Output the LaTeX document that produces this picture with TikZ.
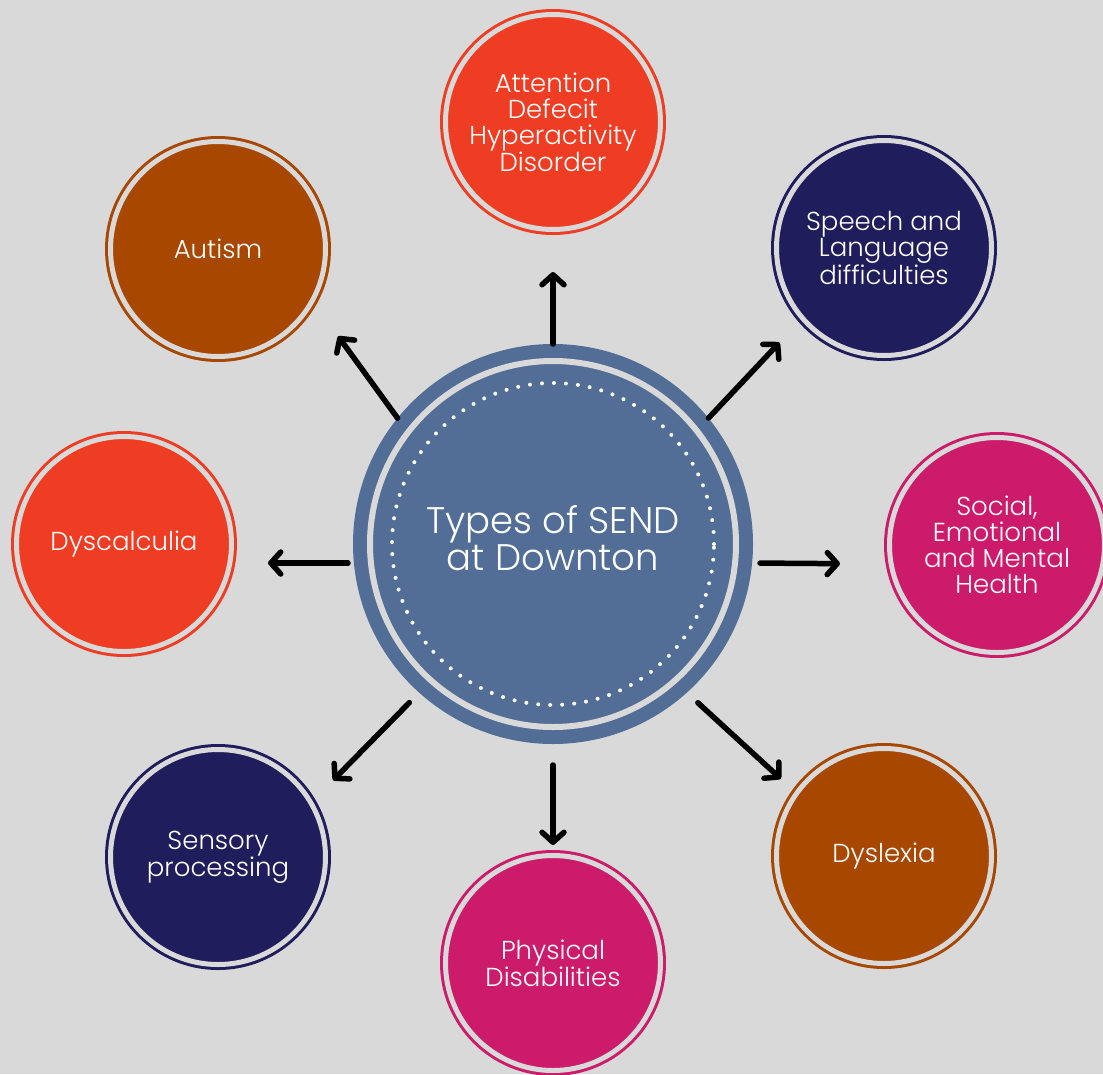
\documentclass[tikz,border=0pt]{standalone}
\usepackage{fontspec}
\setmainfont{Poppins}[UprightFont=* Light]
\usetikzlibrary{arrows.meta}

\definecolor{bggray}{RGB}{217,217,217}
\definecolor{hubblue}{RGB}{82,110,150}
\definecolor{redorange}{RGB}{239,61,36}
\definecolor{rust}{RGB}{168,71,0}
\definecolor{navy}{RGB}{31,29,92}
\definecolor{magenta}{RGB}{205,27,108}

\begin{document}
\begin{tikzpicture}[x=1pt, y=-1pt,
  topic/.style={circle, draw=#1, fill=#1, line width=3pt, double=bggray, double distance=5pt,
                minimum size=215pt, inner sep=0pt, outer sep=5.5pt, text=white, align=center,
                font=\fontsize{26}{26}\selectfont},
  hubstyle/.style={circle, draw=hubblue, fill=hubblue, line width=14pt, double=bggray, double distance=6pt,
                minimum size=366pt, inner sep=0pt, outer sep=17pt},
  hubtext/.style={text=white, align=center, font=\fontsize{37}{37}\selectfont},
  link/.style={-{Straight Barb[round, length=10pt, width=22pt]}, line width=5.5pt, line cap=round}]
  \fill[bggray] (0,0) rectangle (1103,1074);
  \useasboundingbox (0,0) rectangle (1103,1074);

  \node[hubstyle] (hub) at (553,544) {};
  \draw[white, line width=4pt, line cap=round, dash pattern=on 0pt off 12pt] (hub.center) circle[radius=161pt];
  \node[hubtext] (title) at ([yshift=6pt]hub.center) {Types of SEND\\at Downton};

  \node[topic=redorange] (adhd) at (553,122) {Attention\\Defecit\\Hyperactivity\\Disorder};
  \node[topic=navy] (speech) at (884,248) {Speech and\\Language\\difficulties};
  \node[topic=magenta] (semh) at (997,545) {Social,\\Emotional\\and Mental\\Health};
  \node[topic=rust] (dyslexia) at (884,856) {Dyslexia};
  \node[topic=magenta] (physical) at (553,963) {Physical\\Disabilities};
  \node[topic=navy] (sensory) at (218,857) {Sensory\\processing};
  \node[topic=redorange] (dyscalculia) at (124,544) {Dyscalculia};
  \node[topic=rust] (autism) at (218,249) {Autism};

  \draw[link, shorten >=37pt] (hub) -- (adhd);
  \draw[link, shorten >=28pt] (hub.39) -- (speech.221.5);
  \draw[link, shorten <=7pt, shorten >=44pt] ([yshift=-19pt]hub.east) -- ([yshift=-19pt]semh.west);
  \draw[link, shorten <=15pt, shorten >=16pt] (hub.-48) -- (dyslexia.144.7);
  \draw[link, shorten <=21pt, shorten >=5pt] (hub) -- (physical);
  \draw[link, shorten <=14pt, shorten >=26pt] (hub.228) -- (sensory.31.2);
  \draw[link, shorten <=5pt, shorten >=31pt] ([yshift=-19pt]hub.west) -- ([yshift=-19pt]dyscalculia.east);
  \draw[link, shorten >=38pt] (hub.141.1) -- (autism.-30.4);
\end{tikzpicture}
\end{document}
